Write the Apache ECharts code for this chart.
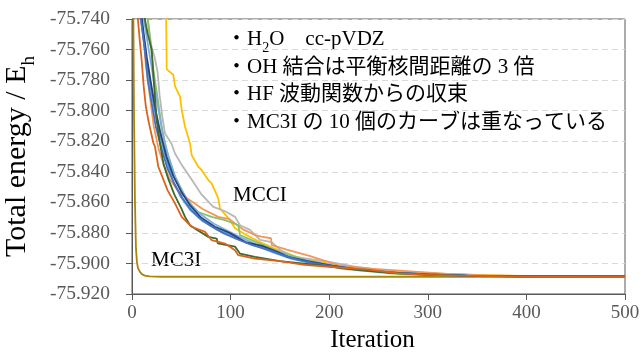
<!DOCTYPE html>
<html>
<head>
<meta charset="utf-8">
<script src="https://cdn.jsdelivr.net/npm/echarts@6/dist/echarts.min.js"></script>
<style>
  html, body { margin: 0; padding: 0; background: #fff; }
  #chart { width: 641px; height: 356px; }
</style>
</head>
<body>
<div id="chart"></div>
<script>
// energies (Eh) against iteration
const xTicks = [0, 100, 200, 300, 400, 500];

const mc3i = [[0, -75.55], [1, -75.70], [2, -75.80], [3, -75.86], [4, -75.89], [5, -75.899], [6, -75.903],
  [8, -75.9055], [10, -75.907], [13, -75.908], [18, -75.9085], [30, -75.9087], [500, -75.9087]];

const mcciYellow = [[0, -75.60], [34, -75.70], [35.2, -75.773], [41.9, -75.7765], [43.6, -75.784], [48.7, -75.7908],
  [50.4, -75.7995], [53.8, -75.8105], [58.8, -75.8213], [60.5, -75.829], [67.2, -75.8367], [70.7, -75.839],
  [77.4, -75.8454], [80.8, -75.8476], [87.5, -75.8574], [89.2, -75.864], [99.4, -75.8717], [104.5, -75.877],
  [116.3, -75.8815], [129.8, -75.886], [143.3, -75.890], [167, -75.8957], [197.5, -75.900], [224.4, -75.9033],
  [241.4, -75.9044], [280, -75.9058], [312, -75.9066], [350, -75.9075], [383, -75.908], [420, -75.9085], [500, -75.9085]];

const mcciGray = [[0, -75.60], [10, -75.70], [16, -75.74], [20, -75.759], [23, -75.765], [26, -75.775], [28, -75.79],
  [31, -75.805], [33.5, -75.815], [40, -75.8215], [43.6, -75.828], [50, -75.835], [60.5, -75.845], [70.7, -75.855],
  [82.5, -75.863], [95, -75.866], [104.5, -75.8695], [109.5, -75.875], [119.7, -75.878], [129.8, -75.8846],
  [141.7, -75.886], [150, -75.891], [163.6, -75.8956], [200, -75.899], [230, -75.9025], [260, -75.905],
  [300, -75.907], [340, -75.908], [400, -75.9085], [500, -75.9085]];

const mcciGreen = [[0, -75.60], [9, -75.70], [16, -75.74], [21.6, -75.773], [26.7, -75.795], [30, -75.81],
  [35, -75.826], [43.6, -75.843], [53.8, -75.856], [65.6, -75.866], [80.8, -75.8695], [94.3, -75.8717],
  [107.8, -75.875], [109.5, -75.8815], [129.8, -75.887], [150, -75.8925], [177, -75.898], [211, -75.9033],
  [270, -75.907], [350, -75.9085], [500, -75.9085]];

const mcciLightOrange = [[0, -75.60], [7, -75.70], [10, -75.74], [14, -75.77], [18, -75.79], [22, -75.81],
  [27, -75.825], [32, -75.835], [38, -75.8445], [46, -75.852], [55, -75.857], [64, -75.861], [72, -75.8645],
  [87.5, -75.8695], [98.9, -75.871], [112, -75.8775], [125, -75.8815], [131, -75.8825], [141, -75.8835],
  [141.7, -75.888], [157, -75.891], [180, -75.895], [211, -75.9015], [245, -75.9035], [268, -75.9045],
  [290, -75.9055], [320, -75.9068], [360, -75.9078], [400, -75.9083], [500, -75.9085]];

const mcciDarkGreen = [[0, -75.60], [8, -75.70], [13, -75.74], [16, -75.75], [20, -75.76], [22, -75.78],
  [25, -75.806], [28, -75.82], [32, -75.835], [37, -75.845], [43, -75.855], [50, -75.864], [53.8, -75.8695],
  [58.8, -75.875], [65.6, -75.878], [77.4, -75.8826], [85.9, -75.8837], [87, -75.8868], [104.5, -75.889],
  [109.5, -75.8935], [124.7, -75.8957], [150, -75.8985], [180, -75.9005], [220, -75.9035], [260, -75.906],
  [300, -75.9075], [350, -75.9083], [400, -75.9085], [500, -75.9085]];

const mcciBlue = [[0, -75.60], [6, -75.70], [9, -75.74], [13, -75.76], [16, -75.78], [20, -75.795], [24, -75.81],
  [30, -75.825], [36, -75.838], [43, -75.848], [51, -75.857], [59, -75.864], [68, -75.870], [79, -75.875],
  [92, -75.880], [106, -75.884], [122, -75.888], [138, -75.891], [153, -75.8945], [168, -75.8975], [185, -75.900],
  [210, -75.9025], [238, -75.9045], [268, -75.906], [300, -75.9072], [340, -75.908], [390, -75.9085],
  [500, -75.9085]];

const mcciLightBlue = [[0, -75.60], [8, -75.70], [12, -75.74], [17, -75.76], [22, -75.78], [27, -75.80],
  [31, -75.815], [37, -75.83], [43, -75.842], [50, -75.852], [59, -75.861], [70, -75.868], [83, -75.874],
  [98, -75.879], [112, -75.8835], [126, -75.8875], [143, -75.8915], [158, -75.895], [175, -75.898],
  [196, -75.9005], [220, -75.903], [248, -75.905], [278, -75.9065], [310, -75.9075], [350, -75.9082],
  [400, -75.9085], [500, -75.9085]];

const mcciDarkBlue = [[0, -75.60], [7, -75.70], [10, -75.74], [15, -75.765], [20, -75.785], [24, -75.80],
  [29, -75.815], [35, -75.83], [42, -75.843], [50, -75.853], [59, -75.862], [70, -75.870], [84, -75.876],
  [99, -75.880], [115, -75.886], [132, -75.8885], [148, -75.8925], [158, -75.8957], [178, -75.8985],
  [203, -75.9015], [230, -75.904], [260, -75.9058], [300, -75.9072], [340, -75.908], [390, -75.9085],
  [500, -75.9085]];

const mcciMidBlue = [[0, -75.60], [6, -75.70], [9, -75.74], [14, -75.765], [19, -75.785], [23, -75.80],
  [28, -75.815], [34, -75.83], [41, -75.845], [49, -75.856], [59, -75.865], [71, -75.872], [85, -75.8775],
  [100, -75.8815], [115, -75.886], [130, -75.8895], [146, -75.8935], [162, -75.897], [180, -75.8995],
  [203, -75.902], [232, -75.9045], [260, -75.906], [295, -75.9072], [335, -75.908], [380, -75.9084],
  [500, -75.9085]];

const mcciDarkOrange = [[0, -75.60], [4, -75.70], [6, -75.74], [8, -75.755], [9.8, -75.767], [12, -75.785],
  [14, -75.797], [16.5, -75.806], [21.6, -75.821], [23.3, -75.8236], [26.7, -75.8367], [30, -75.842],
  [36, -75.852], [43.6, -75.8607], [50.4, -75.8695], [60.5, -75.876], [74, -75.8793], [80.8, -75.8848],
  [94.3, -75.887], [104.5, -75.8913], [107.8, -75.8946], [124.7, -75.8968], [150, -75.8985], [175, -75.901],
  [206.7, -75.9025], [240, -75.904], [270, -75.9065], [300, -75.9075], [330, -75.908], [380, -75.9085],
  [500, -75.9086]];

const notes = [
  "・{n|H}{s|2}{n|O}{n|　cc-pVDZ}",
  "・OH 結合は平衡核間距離の 3 倍",
  "・HF 波動関数からの収束",
  "・MC3I の 10 個のカーブは重なっている"
];

const serif = '"Liberation Serif", "Noto Sans CJK JP", serif';

const curves = [
  { data: mc3i, color: "#A8860A" },
  { data: mcciYellow, color: "#FFC000" },
  { data: mcciGray, color: "#B7B7B7" },
  { data: mcciLightOrange, color: "#F1975A" },
  { data: mcciGreen, color: "#8CC168" },
  { data: mcciLightBlue, color: "#7CAFDD" },
  { data: mcciMidBlue, color: "#5B9BD5" },
  { data: mcciDarkBlue, color: "#264478" },
  { data: mcciBlue, color: "#4472C4" },
  { data: mcciDarkGreen, color: "#43682B" },
  { data: mcciDarkOrange, color: "#D9641C" }
];

const chart = echarts.init(document.getElementById("chart"));

const option = {
  animation: false,
  grid: {
    left: 132, right: 16, top: 19, bottom: 62,
    outerBoundsMode: "none",
    containLabel: false,
    show: true, borderColor: "#595959", borderWidth: 1
  },
  xAxis: {
    type: "value",
    min: 0, max: 500, interval: 100,
    name: "Iteration",
    nameLocation: "middle",
    nameGap: 34,
    nameTextStyle: { fontFamily: serif, fontSize: 25, color: "#000", padding: [0, 12, 0, 0] },
    axisLine: { lineStyle: { color: "#595959" } },
    axisTick: { show: true, length: 6, lineStyle: { color: "#595959" } },
    axisLabel: {
      fontFamily: serif, fontSize: 19, color: "#595959", margin: 10,
      formatter: v => xTicks.includes(v) ? String(v) : ""
    },
    splitLine: { show: false }
  },
  yAxis: {
    type: "value",
    min: -75.92, max: -75.74, interval: 0.02,
    name: "Total energy / E{h|h}",
    nameLocation: "middle",
    nameRotate: 90,
    nameGap: 100,
    nameTextStyle: {
      fontFamily: serif, fontSize: 30, color: "#000",
      rich: { h: { fontFamily: serif, fontSize: 19, color: "#000", verticalAlign: "bottom", padding: [0, 0, -7, 0] } }
    },
    axisLine: { show: true, lineStyle: { color: "#595959" } },
    axisTick: { show: true, length: 6, lineStyle: { color: "#595959" } },
    axisLabel: {
      fontFamily: serif, fontSize: 19.5, color: "#595959", margin: 22,
      formatter: v => v.toFixed(3)
    },
    splitLine: { show: true, lineStyle: { color: "#D9D9D9", type: [6, 4], width: 1 } }
  },
  series: curves.map(c => ({
    type: "line",
    data: c.data,
    showSymbol: false,
    clip: true,
    lineStyle: { color: c.color, width: 1.8 },
    itemStyle: { color: c.color }
  })),
  graphic: [
    ...notes.map((t, i) => ({
      type: "text",
      left: 226,
      top: 29 + i * 27.5,
      style: {
        text: t,
        fontFamily: serif,
        fontSize: 21,
        fill: "#000",
        rich: {
          n: { fontFamily: serif, fontSize: 21, fill: "#000" },
          s: { fontFamily: serif, fontSize: 14, fill: "#000", verticalAlign: "bottom", padding: [0, 0, -5, 0] }
        }
      }
    })),
    { type: "text", left: 233, top: 185, style: { text: "MCCI", fontFamily: serif, fontSize: 21, fill: "#000" } },
    { type: "text", left: 151, top: 250, style: { text: "MC3I", fontFamily: serif, fontSize: 21, fill: "#000" } }
  ]
};

chart.setOption(option);
window.addEventListener("resize", () => chart.resize());
</script>
</body>
</html>
